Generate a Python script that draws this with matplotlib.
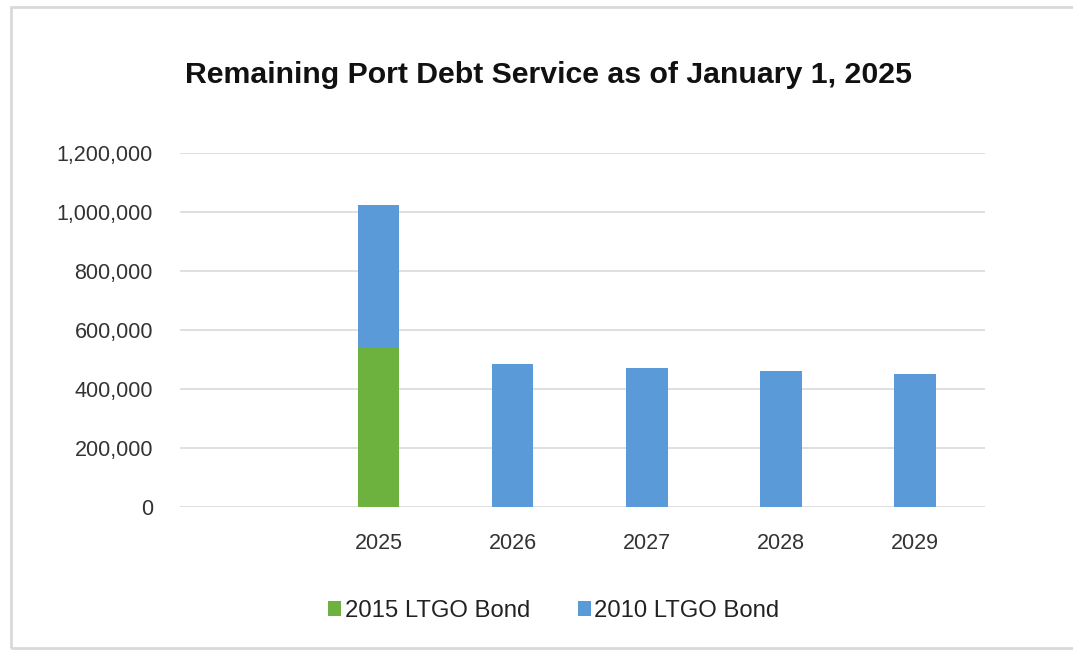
import numpy as np
import matplotlib.pyplot as plt
from matplotlib.patches import Rectangle

plt.rcParams['font.family'] = ['Liberation Sans', 'DejaVu Sans']

years = ['', '2025', '2026', '2027', '2028', '2029']
bond_2015 = [0, 539000, 0, 0, 0, 0]
bond_2010 = [0, 485000, 484000, 470000, 462000, 450000]
y_ticks = [0, 200000, 400000, 600000, 800000, 1000000, 1200000]

green = '#6DB23F'
blue = '#5A9AD8'

fig = plt.figure(figsize=(10.73, 6.5), dpi=100)
ax = fig.add_axes([0.1678, 0.22, 0.750, 0.5446])

x = np.arange(len(years))
w = 0.31
ax.bar(x - 0.02, bond_2015, w, color=green, label='2015 LTGO Bond')
ax.bar(x - 0.02, bond_2010, w, bottom=bond_2015, color=blue, label='2010 LTGO Bond')

ax.set_xlim(-0.5, len(years) - 0.5)
ax.set_ylim(0, 1200000)
ax.set_yticks(y_ticks)
ax.set_yticklabels([f'{v:,}' for v in y_ticks])
ax.set_xticks(x - 0.02)
ax.set_xticklabels(years)
ax.tick_params(axis='y', length=0, pad=19.5, labelsize=15.5, labelcolor='#333333')
ax.tick_params(axis='x', length=0, pad=18.5, labelsize=15.5, labelcolor='#333333')

ax.grid(axis='y', color='#D9D9D9', linewidth=1.2)
ax.set_axisbelow(True)
for s in ax.spines.values():
    s.set_visible(False)

fig.text(0.511, 0.885, 'Remaining Port Debt Service as of January 1, 2025',
         ha='center', va='center', fontsize=21.8, fontweight='bold', color='#111111')

h, l = ax.get_legend_handles_labels()
fig.legend(h, l, loc='center', bbox_to_anchor=(0.516, 0.06), ncol=2, frameon=False,
           fontsize=17.2, handlelength=0.55, handleheight=0.55, handletextpad=0.15,
           columnspacing=2.0, labelcolor='#222222')

# outer chart border
fig.patches.append(Rectangle((0.0103, 0.003), 1.1, 0.986, transform=fig.transFigure,
                             fill=False, edgecolor='#D9D9D9', linewidth=2))

fig.savefig('out.png', dpi=100)
